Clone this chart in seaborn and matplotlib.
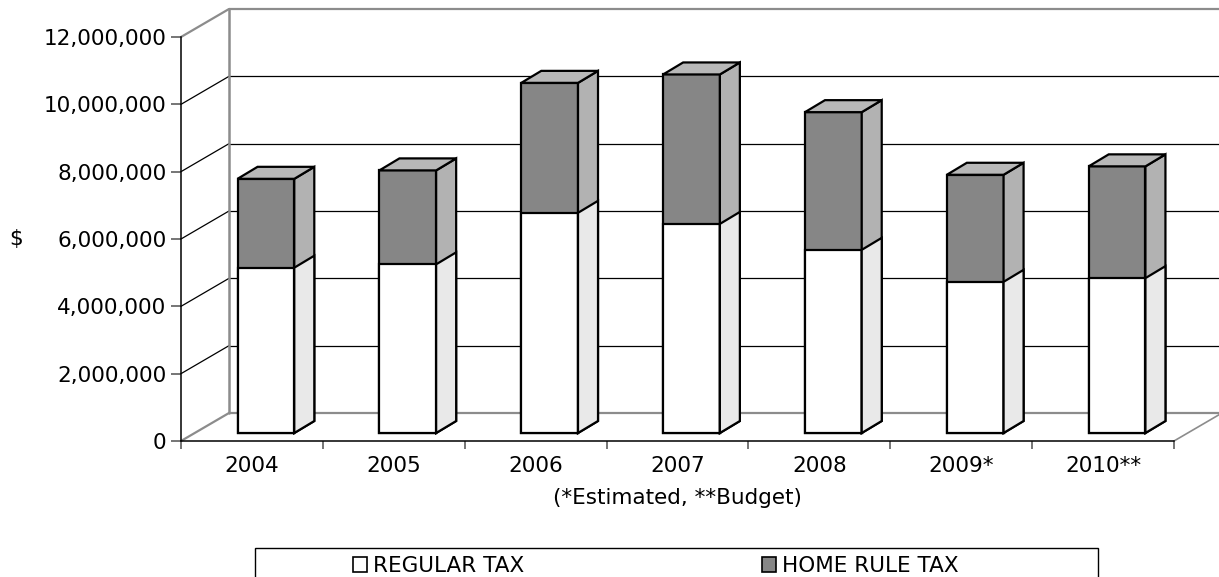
import numpy as np
import pandas as pd
import matplotlib
matplotlib.use("Agg")
import matplotlib.pyplot as plt
import seaborn as sns
from matplotlib.patches import Polygon, Rectangle, Patch
from matplotlib.ticker import FuncFormatter

# ---- data -------------------------------------------------------------
years = ["2004", "2005", "2006", "2007", "2008", "2009*", "2010**"]
regular_tax = [4.91e6, 5.01e6, 6.54e6, 6.21e6, 5.44e6, 4.49e6, 4.60e6]
home_rule_tax = [2.64e6, 2.79e6, 3.86e6, 4.44e6, 4.09e6, 3.18e6, 3.32e6]
series_names = ["REGULAR TAX", "HOME RULE TAX"]
y_ticks = [0, 2e6, 4e6, 6e6, 8e6, 10e6, 12e6]
x_title = "(*Estimated, **Budget)"
y_title = "$"

# ---- style ------------------------------------------------------------
HOME_FRONT = "#868686"
HOME_SIDE = "#b2b2b2"
HOME_TOP = "#b8b8b8"
REG_FRONT = "#ffffff"
REG_SIDE = "#e9e9e9"
WALL_EDGE = "#8c8c8c"
EDGE_LW = 1.6

sns.set_theme(style="white")
plt.rcParams["font.family"] = ["DejaVu Sans"]
plt.rcParams["text.color"] = "black"
plt.rcParams["axes.labelcolor"] = "black"
FS = 15.5

W, H = 1219, 577
fig = plt.figure(figsize=(W / 100, H / 100), dpi=100)
fig.patch.set_facecolor("white")
# front plane of the 3-D box
ax = fig.add_axes([181 / W, (H - 441) / H, 993 / W, 404 / H])

df = pd.DataFrame({"year": years, "regular": regular_tax, "home": home_rule_tax})
df["total"] = df["regular"] + df["home"]

sns.barplot(data=df, x="year", y="total", color=HOME_FRONT, saturation=1,
            width=0.4, edgecolor="black", linewidth=EDGE_LW, ax=ax, zorder=3)
sns.barplot(data=df, x="year", y="regular", color=REG_FRONT, saturation=1,
            width=0.4, edgecolor="black", linewidth=EDGE_LW, ax=ax, zorder=3)

n = len(years)
ax.set_xlim(-0.5, n - 0.5)
ax.set_ylim(y_ticks[0], y_ticks[-1])
ax.set_facecolor("none")


def depth(dx_px, dy_px):
    """Convert a screen offset (pixels right / up) into data units."""
    x0, y0 = ax.transData.transform((0, 0))
    x1, y1 = ax.transData.transform((1, 1e6))
    return dx_px / (x1 - x0), dy_px / (y1 - y0) * 1e6


# ---- walls and floor ---------------------------------------------------
wx, wy = depth(48, 28)
x_lo, x_hi = -0.5, n - 0.5
for v in y_ticks:
    edge = v in (y_ticks[0], y_ticks[-1])
    c = WALL_EDGE if edge else "black"
    lw = 1.6 if edge else 0.9
    # back wall gridline
    ax.plot([x_lo + wx, x_hi + wx], [v + wy, v + wy], color=c, lw=lw,
            clip_on=False, zorder=1, solid_capstyle="butt")
    # side wall diagonal
    ax.plot([x_lo, x_lo + wx], [v, v + wy], color=c, lw=lw,
            clip_on=False, zorder=1)
ax.plot([x_lo + wx, x_lo + wx], [wy, y_ticks[-1] + wy], color=WALL_EDGE,
        lw=1.8, clip_on=False, zorder=1)
ax.plot([x_hi, x_hi + wx], [0, wy], color=WALL_EDGE, lw=1.2,
        clip_on=False, zorder=1)

# ---- 3-D bars: shift front faces into the box, add side / top faces ----
fx, fy = depth(14, 8)
bx, by = depth(20, 12)
totals = ax.patches[:n]
regs = ax.patches[n:2 * n]


def faces(rect, side_color, top_color=None):
    rect.set_x(rect.get_x() + fx)
    rect.set_y(rect.get_y() + fy)
    x, y = rect.get_x(), rect.get_y()
    w, h = rect.get_width(), rect.get_height()
    side = Polygon([(x + w, y), (x + w + bx, y + by), (x + w + bx, y + h + by),
                    (x + w, y + h)], closed=True, facecolor=side_color,
                   edgecolor="black", lw=EDGE_LW, joinstyle="miter",
                   zorder=3.2, clip_on=False)
    ax.add_patch(side)
    if top_color is not None:
        top = Polygon([(x, y + h), (x + bx, y + h + by), (x + w + bx, y + h + by),
                       (x + w, y + h)], closed=True, facecolor=top_color,
                      edgecolor="black", lw=EDGE_LW, joinstyle="miter",
                      zorder=3.2, clip_on=False)
        ax.add_patch(top)
    rect.set_clip_on(False)
    rect.set_joinstyle("miter")


for r_tot, r_reg in zip(totals, regs):
    faces(r_tot, HOME_SIDE, HOME_TOP)
    faces(r_reg, REG_SIDE)
    r_reg.set_zorder(3.1)

# ---- axes, ticks, labels ----------------------------------------------
for s in ("top", "right"):
    ax.spines[s].set_visible(False)
for s in ("left", "bottom"):
    ax.spines[s].set_color("black")
    ax.spines[s].set_linewidth(1.1)
    ax.spines[s].set_zorder(2)

ax.set_yticks(y_ticks)
ax.yaxis.set_major_formatter(FuncFormatter(lambda v, _: f"{int(round(v)):,}"))
ax.tick_params(axis="y", which="major", left=True, length=7, width=1.1,
               color="#505050", pad=3.6, labelsize=FS, labelcolor="black")
ax.set_xticks(range(n))
ax.set_xticklabels(years)
ax.set_xticks(np.arange(-0.5, n), minor=True)
ax.tick_params(axis="x", which="major", bottom=True, length=0, pad=10.5,
               labelsize=FS, labelcolor="black")
ax.tick_params(axis="x", which="minor", bottom=True, length=5.8, width=1.1,
               color="#505050")
ax.grid(False)

ax.set_xlabel(x_title, fontsize=FS, color="black")
ax.xaxis.label.set_va("center")
ax.xaxis.set_label_coords(0.5, -(498 - 441) / 404)
ax.set_ylabel(y_title, fontsize=FS, rotation=0, color="black")
ax.yaxis.label.set_va("center")
ax.yaxis.label.set_ha("center")
ax.yaxis.set_label_coords((16 - 181) / 993, 0.5)

# ---- legend -----------------------------------------------------------
frame = Rectangle((255 / W, -0.05), (1098 - 255) / W, (H - 548) / H + 0.05,
                  transform=fig.transFigure, facecolor="white",
                  edgecolor="black", lw=1.0, zorder=0)
fig.patches.append(frame)
handles = [Patch(facecolor=REG_FRONT, edgecolor="black", lw=1.2),
           Patch(facecolor=HOME_FRONT, edgecolor="black", lw=1.2)]
leg = fig.legend(handles, series_names, loc="center left",
                 bbox_to_anchor=(353 / W, (H - 566) / H), ncol=2, frameon=False,
                 fontsize=FS, handlelength=0.65, handleheight=0.65,
                 handletextpad=0.3, columnspacing=11.0, borderpad=0,
                 borderaxespad=0, labelcolor="black")

fig.savefig("out.png", dpi=100, facecolor="white")
